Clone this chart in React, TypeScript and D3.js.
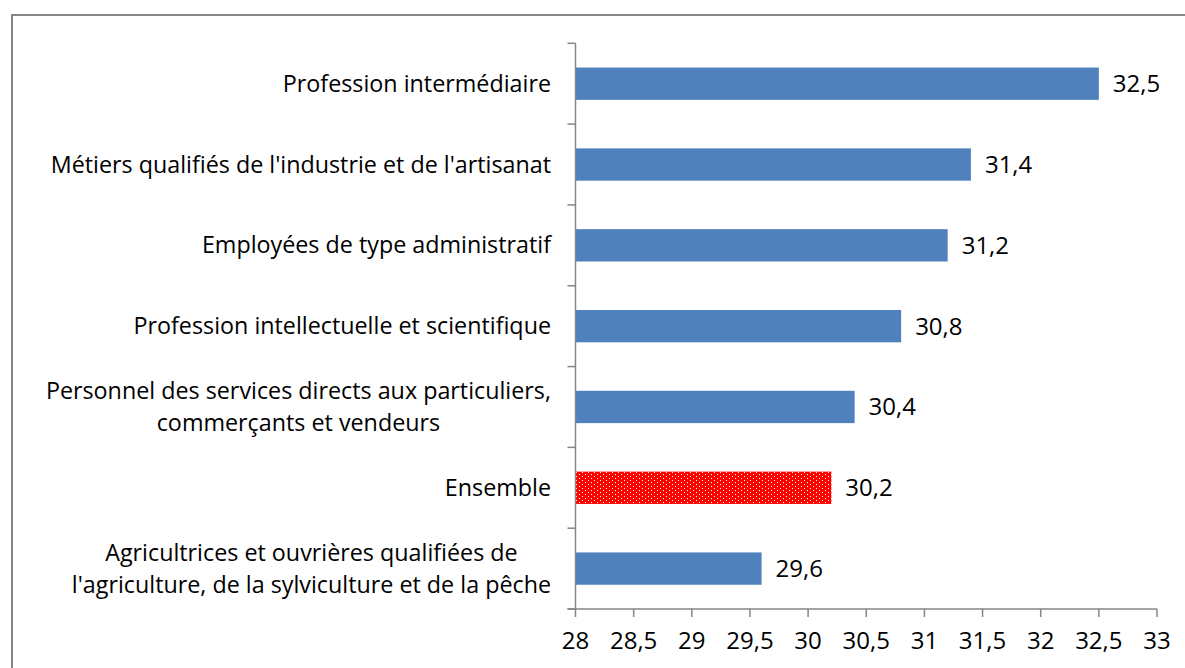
import { useEffect, useRef } from "react";
import * as d3 from "d3";

// categories top -> bottom, labels split on lines as in the original
const categories = [
  ["Profession intermédiaire"],
  ["Métiers qualifiés de l'industrie et de l'artisanat"],
  ["Employées de type administratif"],
  ["Profession intellectuelle et scientifique"],
  ["Personnel des services directs aux particuliers,", "commerçants et vendeurs"],
  ["Ensemble"],
  ["Agricultrices et ouvrières qualifiées de", "l'agriculture, de la sylviculture et de la pêche"],
];
const values = [32.5, 31.4, 31.2, 30.8, 30.4, 30.2, 29.6];
const highlighted = [false, false, false, false, false, true, false];
const xTicks = [28, 28.5, 29, 29.5, 30, 30.5, 31, 31.5, 32, 32.5, 33];

const width = 1185;
const height = 668;
const FONT = "Open Sans, sans-serif";

export default function App() {
  const ref = useRef<SVGSVGElement>(null);

  useEffect(() => {
    const svg = d3.select(ref.current);
    svg.selectAll("*").remove();

    const left = 575.5;
    const right = 1157;
    const top = 43.3;
    const bottom = 609;
    const fmt = (v: number) => String(v).replace(".", ",");

    // dotted red fill for "Ensemble"
    const pat = svg
      .append("defs")
      .append("pattern")
      .attr("id", "dots")
      .attr("width", 6)
      .attr("height", 4)
      .attr("patternUnits", "userSpaceOnUse");
    pat.append("rect").attr("width", 6).attr("height", 4).attr("fill", "#ff0000");
    pat.append("rect").attr("x", 0).attr("y", 0).attr("width", 1).attr("height", 1).attr("fill", "#fff").attr("shape-rendering", "crispEdges");
    pat.append("rect").attr("x", 3).attr("y", 2).attr("width", 1).attr("height", 1).attr("fill", "#fff").attr("shape-rendering", "crispEdges");

    // frame
    svg
      .append("path")
      .attr("d", `M12,${height + 5}V15H${width + 5}`)
      .attr("fill", "none")
      .attr("stroke", "#868686")
      .attr("stroke-width", 2);

    const x = d3.scaleLinear().domain([28, 33]).range([left, right]);
    const idx = categories.map((_, i) => i);
    const y = d3
      .scaleBand<number>()
      .domain(idx)
      .range([top, bottom])
      .paddingInner(0.6)
      .paddingOuter(0.3);
    const step = y.step();

    const g = svg.append("g");

    g.selectAll("rect.bar")
      .data(idx)
      .join("rect")
      .attr("class", "bar")
      .attr("x", x(28))
      .attr("y", (i) => y(i)!)
      .attr("width", (i) => x(values[i]) - x(28))
      .attr("height", y.bandwidth())
      .attr("fill", (i) => (highlighted[i] ? "url(#dots)" : "#4f81bd"));

    // value labels
    g.selectAll("text.val")
      .data(idx)
      .join("text")
      .attr("class", "val")
      .attr("x", (i) => x(values[i]) + 14)
      .attr("y", (i) => y(i)! + y.bandwidth() / 2)
      .attr("dy", "0.35em")
      .attr("font-family", FONT)
      .attr("font-size", 24)
      .attr("fill", "#000")
      .text((i) => fmt(values[i]));

    // y axis line + ticks at band boundaries
    const axisColor = "#868686";
    g.append("line")
      .attr("x1", left)
      .attr("x2", left)
      .attr("y1", top)
      .attr("y2", bottom)
      .attr("stroke", axisColor)
      .attr("stroke-width", 1.5);
    const bounds = d3.range(categories.length + 1).map((k) => top + k * step);
    g.selectAll("line.ytick")
      .data(bounds)
      .join("line")
      .attr("class", "ytick")
      .attr("x1", left - 8)
      .attr("x2", left)
      .attr("y1", (d) => d)
      .attr("y2", (d) => d)
      .attr("stroke", axisColor)
      .attr("stroke-width", 1.5);

    // x axis
    g.append("line")
      .attr("x1", left - 8)
      .attr("x2", right)
      .attr("y1", bottom)
      .attr("y2", bottom)
      .attr("stroke", axisColor)
      .attr("stroke-width", 1.5);
    g.selectAll("line.xtick")
      .data(xTicks)
      .join("line")
      .attr("class", "xtick")
      .attr("x1", (d) => x(d))
      .attr("x2", (d) => x(d))
      .attr("y1", bottom)
      .attr("y2", bottom + 8)
      .attr("stroke", axisColor)
      .attr("stroke-width", 1.5);
    g.selectAll("text.xlab")
      .data(xTicks)
      .join("text")
      .attr("class", "xlab")
      .attr("x", (d) => x(d))
      .attr("y", 641)
      .attr("dy", "0.35em")
      .attr("text-anchor", "middle")
      .attr("font-family", FONT)
      .attr("font-size", 24)
      .text((d) => fmt(d));

    // category labels, multi-line blocks centred on their widest line
    const labelRight = 551;
    idx.forEach((i) => {
      const lines = categories[i];
      const cy = y(i)! + y.bandwidth() / 2;
      const lh = 32;
      const texts = lines.map((ln, k) =>
        g
          .append("text")
          .attr("y", cy + (k - (lines.length - 1) / 2) * lh)
          .attr("dy", "0.35em")
          .attr("font-family", FONT)
          .attr("font-size", 23.3)
          .attr("fill", "#000")
          .text(ln)
      );
      const widths = texts.map((t) => (t.node() as SVGTextElement).getComputedTextLength());
      const maxW = d3.max(widths) ?? 0;
      const cx = labelRight - maxW / 2;
      texts.forEach((t) => t.attr("x", cx).attr("text-anchor", "middle"));
    });
  }, []);

  return (
    <svg
      ref={ref}
      width={width}
      height={height}
      style={{ position: "absolute", left: 0, top: 0, background: "#fff" }}
    />
  );
}
